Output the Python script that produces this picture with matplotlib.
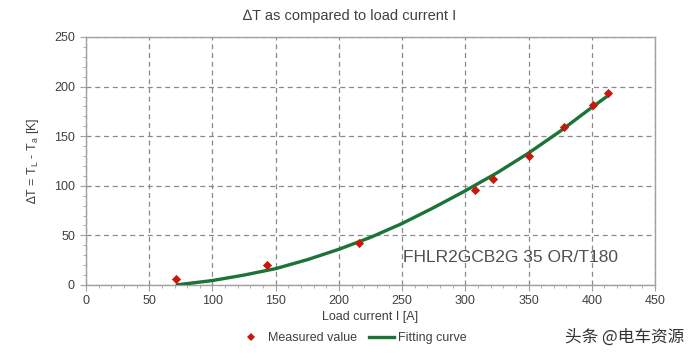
import matplotlib
matplotlib.use("Agg")
import matplotlib.pyplot as plt
from matplotlib.ticker import MultipleLocator
from matplotlib.lines import Line2D

plt.rcParams['font.family'] = ['Liberation Sans', 'DejaVu Sans']

# Measured values
meas_current = [71, 143, 216, 308, 322, 350, 378, 401, 413]
meas_dT = [6, 20, 42, 96, 107, 130, 159, 181, 194]

# Fitting curve
fit_current = [71, 100, 125, 150, 175, 200, 225, 250, 275, 300, 325, 350, 375, 400, 413]
fit_dT = [0, 4.5, 10, 16.5, 25.5, 36, 48, 62, 78, 95, 113, 133, 155, 179, 191]

title = "∆T as compared to load current I"
xlabel = "Load current I [A]"
ylabel = "∆T = T$_\\mathregular{L}$ - T$_\\mathregular{a}$ [K]"
annot = "FHLR2GCB2G 35 OR/T180"
watermark = "头条 @电车资源"

txt = '#404040'
fig = plt.figure(figsize=(7.0, 3.55), dpi=100)
ax = fig.add_axes([0.1229, 0.1972, 0.8128, 0.6986])

ax.plot(fit_current, fit_dT, color='#1b7335', lw=2.4, zorder=3, solid_capstyle='butt')
ax.scatter(meas_current, meas_dT, marker='D', s=22, color='#c8180c', zorder=4, linewidths=0)

ax.set_xlim(0, 450)
ax.set_ylim(0, 250)
ax.xaxis.set_major_locator(MultipleLocator(50))
ax.xaxis.set_minor_locator(MultipleLocator(10))
ax.yaxis.set_major_locator(MultipleLocator(50))
ax.yaxis.set_minor_locator(MultipleLocator(10))
ax.grid(True, which='major', color='#8a8a8a', ls=(0, (4, 3)), lw=0.9)
for s in ax.spines.values():
    s.set_color('#a0a0a0')
    s.set_linewidth(1.0)
ax.tick_params(which='major', direction='out', length=4, color='#a0a0a0', labelsize=9, labelcolor=txt, pad=4)
ax.tick_params(which='minor', direction='out', length=2.5, color='#a0a0a0')
ax.tick_params(axis='x', pad=3)

fig.text(0.5, 1 - 16/355, title, fontsize=10.5, color=txt, ha='center', va='center')
ax.set_xlabel(xlabel, fontsize=9, color=txt, labelpad=3)
ax.set_ylabel(ylabel, fontsize=9, color=txt, labelpad=9)
ax.text(403/700, 1 - 258/355, annot, transform=fig.transFigure, fontsize=12.5,
        color='#505050', va='center', ha='left')

handles = [Line2D([], [], marker='D', ls='none', color='#c8180c', markersize=4.5, markeredgewidth=0),
           Line2D([], [], color='#1b7335', lw=2.4)]
fig.legend(handles, ["Measured value", "Fitting curve"], loc='center', bbox_to_anchor=(0.504, 1 - 338/355),
           ncol=2, frameon=False, fontsize=9, labelcolor=txt, handlelength=2.0, columnspacing=1.0,
           handletextpad=0.3)

fig.text(625/700, 1 - 337/355, watermark, family=['Noto Sans CJK SC', 'DejaVu Sans'],
         fontsize=12, color='#333333', ha='center', va='center')

fig.savefig('out.png', dpi=100, facecolor='white')
